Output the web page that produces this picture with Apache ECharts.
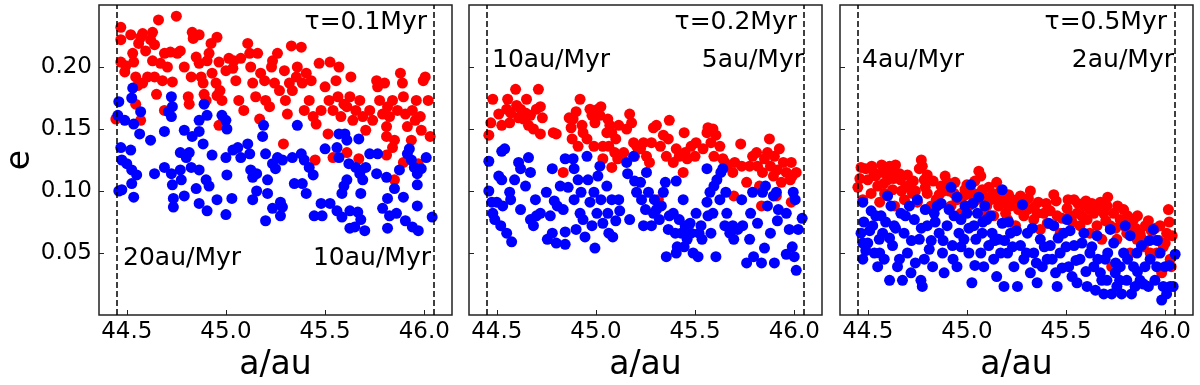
<!DOCTYPE html>
<html>
<head>
<meta charset="utf-8">
<script src="https://cdn.jsdelivr.net/npm/echarts@6/dist/echarts.min.js"></script>
<style>
  html, body { margin: 0; padding: 0; background: #fff; }
  #chart { width: 1200px; height: 385px; }
</style>
</head>
<body>
<div id="chart"></div>
<script>
// tick values shared by the three panels
const xTicks = [44.5, 45.0, 45.5, 46.0];
const yTicks = [0.05, 0.10, 0.15, 0.20];
// dashed boundaries of the region
const edges = [44.445, 46.045];

const tauLabels = ['τ=0.1Myr', 'τ=0.2Myr', 'τ=0.5Myr'];
const innerRates = ['20au/Myr', '10au/Myr', '4au/Myr'];
const outerRates = ['10au/Myr', '5au/Myr', '2au/Myr'];

// panel 1 (tau = 0.1 Myr)
const red1 = [
  [44.47,0.232],[44.47,0.222],[44.47,0.204],[44.495,0.201],[44.49,0.196],[44.52,0.226],[44.53,0.211],[44.535,0.204],
  [44.545,0.192],[44.56,0.219],[44.57,0.224],[44.58,0.227],[44.555,0.185],[44.58,0.187],[44.605,0.192],[44.595,0.213],
  [44.62,0.222],[44.63,0.228],[44.64,0.218],[44.63,0.205],[44.64,0.192],[44.65,0.178],[44.66,0.238],[44.67,0.203],
  [44.68,0.189],[44.69,0.211],[44.705,0.200],[44.72,0.212],[44.73,0.188],[44.75,0.241],[44.755,0.211],[44.77,0.213],
  [44.79,0.200],[44.81,0.176],[44.815,0.170],[44.825,0.192],[44.83,0.228],[44.835,0.223],[44.865,0.226],[44.85,0.208],
  [44.865,0.203],[44.875,0.192],[44.885,0.187],[44.89,0.178],[44.90,0.173],[44.905,0.205],[44.915,0.211],[44.925,0.219],
  [44.93,0.195],[44.95,0.187],[44.955,0.224],[44.965,0.204],[44.955,0.177],[44.97,0.181],[44.98,0.173],[45.0,0.197],
  [45.015,0.207],[45.035,0.199],[45.04,0.205],[45.05,0.189],[45.065,0.173],[45.075,0.207],[45.09,0.165],[45.11,0.219],
  [45.12,0.211],[45.125,0.200],[45.135,0.187],[45.15,0.176],[45.16,0.211],[45.17,0.158],[45.175,0.195],[45.195,0.189],
  [45.20,0.173],[45.22,0.168],[45.23,0.200],[45.235,0.205],[45.245,0.187],[45.26,0.211],[45.27,0.181],[45.295,0.197],
  [45.30,0.173],[45.31,0.162],[45.32,0.187],[45.33,0.217],[45.335,0.181],[45.355,0.192],[45.36,0.200],[45.38,0.216],
  [45.385,0.187],[45.395,0.165],[45.405,0.195],[45.42,0.173],[45.43,0.189],[45.44,0.160],[45.455,0.154],[45.47,0.203],
  [45.48,0.165],[45.50,0.184],[45.515,0.146],[45.52,0.173],[45.525,0.204],[45.54,0.165],[45.555,0.189],[45.565,0.176],
  [45.57,0.200],[45.58,0.160],[45.595,0.170],[45.61,0.168],[45.625,0.176],[45.63,0.192],[45.64,0.157],[45.655,0.165],
  [45.675,0.173],[45.69,0.160],[45.705,0.149],[45.725,0.165],[45.74,0.157],[45.76,0.189],[45.765,0.184],[45.775,0.173],
  [45.79,0.162],[45.80,0.187],[45.81,0.152],[45.815,0.168],[45.825,0.160],[45.84,0.173],[45.85,0.141],[45.865,0.165],
  [45.88,0.195],[45.89,0.187],[45.895,0.176],[45.905,0.162],[45.915,0.152],[45.935,0.141],[45.94,0.165],[45.955,0.157],
  [45.96,0.173],[45.98,0.160],[45.985,0.149],[45.995,0.189],[46.005,0.192],[46.02,0.173],[46.03,0.144],
  [44.445,0.158],[44.57,0.157],[44.545,0.170],[44.69,0.165],[44.965,0.153],[45.29,0.138],[45.45,0.125],[45.54,0.127],
  [45.61,0.131],[45.67,0.126],[45.81,0.129],[45.85,0.109],[45.895,0.123],[45.97,0.122],[45.84,0.135],[45.81,0.144]
];
const blue1 = [
  [44.455,0.161],[44.46,0.172],[44.53,0.183],[44.525,0.175],[44.49,0.157],[44.535,0.154],[44.57,0.164],[44.565,0.146],
  [44.62,0.141],[44.47,0.135],[44.52,0.133],[44.475,0.125],[44.50,0.122],[44.525,0.117],[44.55,0.113],[44.525,0.106],
  [44.46,0.100],[44.475,0.101],[44.535,0.095],[44.64,0.114],[44.69,0.148],[44.71,0.164],[44.725,0.176],[44.73,0.168],
  [44.725,0.160],[44.69,0.119],[44.725,0.114],[44.73,0.105],[44.735,0.094],[44.735,0.087],[44.77,0.117],[44.775,0.109],
  [44.79,0.149],[44.77,0.131],[44.80,0.127],[44.815,0.131],[44.79,0.096],[44.83,0.144],[44.825,0.119],[44.85,0.102],
  [44.865,0.090],[44.865,0.148],[44.865,0.157],[44.885,0.138],[44.89,0.170],[44.905,0.161],[44.865,0.117],[44.90,0.109],
  [44.915,0.104],[44.905,0.084],[44.93,0.129],[44.955,0.093],[44.98,0.161],[45.0,0.157],[45.005,0.150],[45.0,0.127],
  [45.005,0.113],[45.03,0.094],[45.0,0.081],[45.035,0.133],[45.06,0.135],[45.075,0.127],[45.11,0.138],[45.12,0.130],
  [45.125,0.117],[45.135,0.111],[45.155,0.114],[45.155,0.100],[45.135,0.093],[45.19,0.153],[45.185,0.144],[45.20,0.130],
  [45.21,0.109],[45.21,0.098],[45.20,0.076],[45.235,0.122],[45.25,0.118],[45.26,0.127],[45.285,0.125],[45.235,0.086],
  [45.275,0.091],[45.275,0.080],[45.285,0.087],[45.335,0.127],[45.36,0.153],[45.345,0.106],[45.385,0.106],[45.405,0.098],
  [45.38,0.130],[45.395,0.125],[45.42,0.119],[45.44,0.113],[45.445,0.080],[45.48,0.090],[45.485,0.080],[45.50,0.134],
  [45.525,0.090],[45.57,0.146],[45.56,0.135],[45.57,0.127],[45.56,0.084],[45.585,0.079],[45.60,0.146],[45.61,0.141],
  [45.62,0.122],[45.61,0.109],[45.595,0.104],[45.585,0.098],[45.625,0.084],[45.625,0.070],[45.65,0.071],[45.67,0.142],
  [45.655,0.119],[45.675,0.114],[45.69,0.109],[45.68,0.098],[45.665,0.083],[45.68,0.077],[45.70,0.068],[45.705,0.119],
  [45.725,0.130],[45.76,0.114],[45.765,0.130],[45.81,0.111],[45.79,0.086],[45.815,0.094],[45.825,0.080],[45.815,0.070],
  [45.85,0.102],[45.86,0.082],[45.875,0.117],[45.895,0.095],[45.905,0.076],[45.915,0.130],[45.925,0.134],[45.935,0.125],
  [45.95,0.119],[45.965,0.114],[45.965,0.105],[45.965,0.088],[45.94,0.071],[45.97,0.068],[45.985,0.118],[46.01,0.127],
  [46.04,0.079]
];

// panel 2 (tau = 0.2 Myr)
const red2 = [
  [44.46,0.145],[44.47,0.155],[44.48,0.174],[44.51,0.162],[44.525,0.153],[44.55,0.166],[44.555,0.174],[44.565,0.155],
  [44.57,0.163],[44.595,0.182],[44.60,0.169],[44.61,0.159],[44.62,0.166],[44.635,0.158],[44.645,0.163],[44.65,0.174],
  [44.66,0.153],[44.67,0.161],[44.685,0.150],[44.70,0.166],[44.71,0.182],[44.72,0.168],[44.72,0.146],[44.73,0.159],
  [44.785,0.147],[44.80,0.146],[44.835,0.115],[44.865,0.159],[44.875,0.151],[44.88,0.142],[44.885,0.158],[44.90,0.164],
  [44.91,0.136],[44.92,0.174],[44.93,0.153],[44.935,0.147],[44.955,0.142],[44.97,0.166],[44.98,0.161],[44.99,0.136],
  [44.995,0.155],[45.01,0.166],[45.02,0.161],[45.025,0.168],[45.035,0.136],[45.035,0.126],[45.055,0.147],[45.06,0.158],
  [45.065,0.136],[45.07,0.153],[45.08,0.147],[45.08,0.119],[45.095,0.131],[45.10,0.142],[45.11,0.126],[45.115,0.153],
  [45.14,0.131],[45.155,0.150],[45.17,0.162],[45.18,0.155],[45.19,0.139],[45.195,0.128],[45.205,0.136],[45.225,0.134],
  [45.24,0.139],[45.255,0.128],[45.27,0.123],[45.28,0.139],[45.29,0.151],[45.305,0.153],[45.315,0.093],[45.325,0.136],
  [45.34,0.145],[45.355,0.128],[45.365,0.142],[45.37,0.157],[45.39,0.123],[45.405,0.134],[45.42,0.128],[45.44,0.115],
  [45.445,0.147],[45.45,0.131],[45.46,0.126],[45.48,0.136],[45.50,0.128],[45.505,0.139],[45.54,0.134],[45.56,0.147],
  [45.565,0.151],[45.58,0.139],[45.59,0.150],[45.595,0.128],[45.605,0.145],[45.625,0.136],[45.64,0.126],[45.65,0.123],
  [45.66,0.120],[45.69,0.115],[45.695,0.096],[45.70,0.123],[45.73,0.138],[45.735,0.120],[45.76,0.107],[45.775,0.120],
  [45.79,0.128],[45.81,0.131],[45.815,0.120],[45.825,0.104],[45.835,0.088],[45.84,0.115],[45.85,0.126],[45.865,0.131],
  [45.875,0.142],[45.88,0.120],[45.895,0.112],[45.90,0.128],[45.915,0.117],[45.925,0.134],[45.935,0.107],[45.945,0.123],
  [45.96,0.115],[45.98,0.109],[45.985,0.123],[45.99,0.112],[46.01,0.115],[45.985,0.091],[45.91,0.096]
];
const blue2 = [
  [44.46,0.124],[44.46,0.100],[44.475,0.091],[44.48,0.082],[44.49,0.077],[44.50,0.091],[44.51,0.112],[44.525,0.109],
  [44.525,0.132],[44.54,0.134],[44.53,0.088],[44.52,0.072],[44.55,0.066],[44.575,0.059],[44.565,0.099],[44.57,0.093],
  [44.59,0.109],[44.61,0.123],[44.62,0.118],[44.62,0.085],[44.645,0.104],[44.66,0.127],[44.67,0.115],[44.67,0.077],
  [44.685,0.072],[44.695,0.093],[44.70,0.080],[44.72,0.082],[44.75,0.099],[44.755,0.061],[44.77,0.080],[44.78,0.066],
  [44.78,0.118],[44.79,0.092],[44.80,0.058],[44.805,0.088],[44.82,0.104],[44.835,0.085],[44.845,0.067],[44.845,0.057],
  [44.845,0.126],[44.86,0.103],[44.885,0.126],[44.89,0.118],[44.89,0.093],[44.90,0.069],[44.91,0.109],[44.92,0.082],
  [44.925,0.099],[44.935,0.077],[44.945,0.063],[44.955,0.128],[44.96,0.109],[44.97,0.091],[44.98,0.072],[44.99,0.099],
  [44.995,0.054],[45.005,0.082],[45.01,0.112],[45.02,0.120],[45.025,0.093],[45.035,0.074],[45.055,0.104],[45.06,0.082],
  [45.065,0.066],[45.08,0.093],[45.085,0.063],[45.10,0.076],[45.115,0.093],[45.12,0.084],[45.155,0.123],[45.16,0.114],
  [45.17,0.077],[45.19,0.128],[45.195,0.108],[45.205,0.099],[45.225,0.107],[45.23,0.093],[45.24,0.072],[45.25,0.085],
  [45.255,0.115],[45.265,0.099],[45.28,0.072],[45.29,0.082],[45.295,0.093],[45.305,0.085],[45.32,0.077],[45.33,0.088],
  [45.34,0.099],[45.35,0.107],[45.355,0.047],[45.365,0.069],[45.37,0.080],[45.39,0.082],[45.40,0.066],[45.405,0.108],
  [45.405,0.050],[45.41,0.055],[45.42,0.077],[45.43,0.066],[45.44,0.093],[45.445,0.055],[45.45,0.072],[45.46,0.061],
  [45.475,0.074],[45.48,0.066],[45.49,0.050],[45.505,0.082],[45.515,0.047],[45.52,0.066],[45.53,0.072],[45.535,0.061],
  [45.56,0.118],[45.56,0.091],[45.565,0.080],[45.575,0.099],[45.58,0.066],[45.59,0.082],[45.595,0.104],[45.605,0.047],
  [45.61,0.109],[45.625,0.093],[45.63,0.115],[45.64,0.118],[45.65,0.072],[45.655,0.099],[45.66,0.082],[45.675,0.066],
  [45.69,0.072],[45.695,0.061],[45.715,0.069],[45.735,0.093],[45.74,0.072],[45.76,0.042],[45.775,0.061],[45.78,0.082],
  [45.79,0.099],[45.795,0.047],[45.815,0.074],[45.835,0.042],[45.84,0.099],[45.85,0.054],[45.855,0.104],[45.865,0.088],
  [45.88,0.066],[45.895,0.096],[45.90,0.042],[45.91,0.099],[45.915,0.076],[45.92,0.085],[45.96,0.082],[45.96,0.049],
  [45.975,0.069],[45.99,0.055],[45.995,0.099],[46.0,0.047],[46.01,0.036],[46.02,0.069],[46.04,0.078],[46.005,0.093]
];

// panel 3 (tau = 0.5 Myr)
const red3 = [
  [44.466,0.119],[44.45,0.103],[44.475,0.093],[44.50,0.109],[44.517,0.098],[44.53,0.115],[44.55,0.104],[44.56,0.091],
  [44.575,0.115],[44.585,0.098],[44.60,0.109],[44.617,0.115],[44.625,0.101],[44.635,0.088],[44.66,0.114],[44.665,0.109],
  [44.685,0.093],[44.71,0.105],[44.725,0.098],[44.75,0.091],[44.76,0.118],[44.775,0.120],[44.785,0.109],[44.80,0.098],
  [44.82,0.088],[44.845,0.093],[44.87,0.104],[44.90,0.107],[44.92,0.088],[44.935,0.098],[44.95,0.093],[44.97,0.082],
  [44.985,0.096],[45.01,0.088],[45.035,0.098],[45.05,0.093],[45.07,0.112],[45.078,0.101],[45.085,0.082],[45.10,0.088],
  [45.12,0.093],[45.135,0.080],[45.15,0.107],[45.16,0.088],[45.178,0.093],[45.195,0.082],[45.205,0.077],[45.22,0.088],
  [45.245,0.072],[45.255,0.093],[45.27,0.096],[45.287,0.080],[45.305,0.085],[45.32,0.100],[45.337,0.077],[45.354,0.082],
  [45.37,0.069],[45.388,0.082],[45.405,0.074],[45.438,0.097],[45.455,0.080],[45.47,0.066],[45.505,0.086],[45.52,0.080],
  [45.54,0.093],[45.555,0.082],[45.57,0.072],[45.59,0.088],[45.606,0.077],[45.62,0.066],[45.64,0.082],[45.656,0.072],
  [45.673,0.091],[45.68,0.061],[45.69,0.082],[45.706,0.088],[45.723,0.072],[45.73,0.039],[45.74,0.082],[45.756,0.061],
  [45.773,0.077],[45.79,0.085],[45.806,0.066],[45.823,0.050],[45.84,0.077],[45.857,0.061],[45.873,0.066],[45.89,0.055],
  [45.915,0.076],[45.924,0.050],[45.94,0.061],[45.957,0.050],[45.974,0.072],[45.982,0.034],[45.99,0.055],[46.007,0.066],
  [46.016,0.085],[46.025,0.045],[46.03,0.039],[46.035,0.064],[45.95,0.070],[45.83,0.070],[45.63,0.090],[45.40,0.090],
  [45.21,0.097],[45.00,0.105],[44.80,0.113],[44.64,0.121],[44.57,0.121],[44.69,0.103],[44.88,0.100],[45.14,0.095],
  [44.46,0.110],[44.49,0.118],[44.52,0.120],[44.54,0.112],[44.58,0.106],[44.61,0.120],[44.63,0.110],[44.67,0.100],
  [44.70,0.113],[44.73,0.108],[44.74,0.100],[44.77,0.125],[44.79,0.103],[44.83,0.108],[44.86,0.097],[44.89,0.112],
  [44.91,0.100],[44.94,0.107],[44.96,0.095],[44.99,0.101],[45.02,0.097],[45.04,0.108],[45.06,0.116],[45.09,0.095],
  [45.11,0.103],[45.13,0.098],[45.17,0.100],[45.19,0.090],[45.23,0.093],[45.26,0.085],[45.29,0.090],[45.31,0.094],
  [45.34,0.087],[45.36,0.091],[45.42,0.084],[45.45,0.092],[45.48,0.078],[45.51,0.093],[45.53,0.075],[45.56,0.090],
  [45.58,0.080],[45.60,0.092],[45.62,0.085],[45.66,0.088],[45.70,0.076],[45.71,0.095],[45.75,0.070],[45.76,0.088],
  [45.79,0.072],[45.81,0.080],[45.85,0.070],[45.86,0.080],[45.88,0.062],[45.90,0.072],[45.93,0.068],[45.97,0.060],
  [46.00,0.058],[46.02,0.075]
];
const blue3 = [
  [44.475,0.091],[44.466,0.066],[44.475,0.058],[44.475,0.045],[44.50,0.058],[44.517,0.084],[44.525,0.072],[44.533,0.050],
  [44.55,0.039],[44.558,0.061],[44.567,0.080],[44.575,0.066],[44.583,0.045],[44.60,0.096],[44.61,0.028],[44.617,0.088],
  [44.625,0.056],[44.633,0.072],[44.65,0.039],[44.667,0.082],[44.675,0.028],[44.683,0.066],[44.70,0.050],[44.71,0.088],
  [44.718,0.034],[44.735,0.077],[44.75,0.093],[44.76,0.061],[44.768,0.028],[44.775,0.023],[44.785,0.045],[44.80,0.072],
  [44.81,0.053],[44.827,0.039],[44.835,0.082],[44.85,0.088],[44.86,0.066],[44.877,0.050],[44.885,0.034],[44.90,0.072],
  [44.92,0.103],[44.927,0.056],[44.935,0.080],[44.95,0.039],[44.96,0.066],[44.97,0.077],[44.985,0.061],[45.0,0.082],
  [45.01,0.050],[45.02,0.105],[45.025,0.026],[45.035,0.072],[45.045,0.061],[45.053,0.082],[45.07,0.050],[45.077,0.066],
  [45.085,0.039],[45.10,0.077],[45.11,0.056],[45.127,0.066],[45.135,0.045],[45.15,0.031],[45.16,0.061],[45.178,0.101],
  [45.178,0.074],[45.187,0.023],[45.205,0.050],[45.22,0.066],[45.237,0.039],[45.255,0.023],[45.27,0.056],[45.28,0.089],
  [45.287,0.045],[45.305,0.066],[45.32,0.034],[45.337,0.050],[45.354,0.026],[45.37,0.061],[45.38,0.039],[45.405,0.045],
  [45.413,0.074],[45.42,0.056],[45.438,0.072],[45.447,0.034],[45.455,0.023],[45.47,0.050],[45.488,0.066],[45.505,0.077],
  [45.513,0.039],[45.53,0.031],[45.54,0.056],[45.555,0.026],[45.57,0.045],[45.59,0.066],[45.606,0.023],[45.62,0.050],
  [45.64,0.039],[45.648,0.020],[45.656,0.064],[45.673,0.034],[45.69,0.017],[45.697,0.045],[45.706,0.028],[45.723,0.069],
  [45.73,0.017],[45.74,0.058],[45.748,0.034],[45.756,0.023],[45.773,0.039],[45.78,0.017],[45.79,0.050],[45.798,0.072],
  [45.806,0.028],[45.823,0.064],[45.83,0.017],[45.84,0.039],[45.848,0.023],[45.857,0.050],[45.873,0.028],[45.88,0.056],
  [45.898,0.039],[45.915,0.023],[45.924,0.045],[45.94,0.069],[45.948,0.028],[45.957,0.039],[45.974,0.050],[45.982,0.012],
  [45.99,0.023],[46.007,0.017],[46.025,0.023],[46.04,0.023],[46.05,0.049],[45.999,0.039],
  [44.48,0.075],[44.49,0.052],[44.51,0.068],[44.54,0.080],[44.56,0.050],[44.59,0.075],[44.61,0.062],[44.64,0.070],
  [44.66,0.045],[44.69,0.080],[44.72,0.060],[44.74,0.042],[44.77,0.070],[44.79,0.085],[44.82,0.060],[44.84,0.075],
  [44.87,0.090],[44.88,0.060],[44.91,0.085],[44.93,0.045],[44.95,0.095],[44.97,0.055],[44.99,0.088],[45.01,0.070],
  [45.03,0.090],[45.04,0.040],[45.06,0.095],[45.08,0.075],[45.09,0.088],[45.12,0.080],[45.14,0.060],[45.17,0.050],
  [45.19,0.060],[45.21,0.075],[45.23,0.055],[45.25,0.068],[45.30,0.050],[45.33,0.070],[45.35,0.042],[45.39,0.055],
  [45.43,0.045],[45.46,0.062],[45.48,0.038],[45.50,0.055],[45.52,0.068],[45.55,0.044],[45.58,0.058],[45.60,0.035],
  [45.63,0.055],[45.66,0.045],[45.68,0.028],[45.71,0.050],[45.75,0.042],[45.77,0.028],[45.81,0.045],[45.86,0.035],
  [45.89,0.025],[45.92,0.060],[45.96,0.060],[46.02,0.040]
];

const reds = [red1, red2, red3];
const blues = [blue1, blue2, blue3];

const gridLefts = [99, 469, 840];
const FONT = 'DejaVu Sans';

const grids = [], xAxes = [], yAxes = [], series = [], texts = [];

gridLefts.forEach((left, i) => {
  grids.push({
    left: left, top: 5, width: 353, height: 310,
    outerBoundsMode: 'none', containLabel: false,
    show: true, borderColor: '#222', borderWidth: 1.5, backgroundColor: '#fff'
  });
  xAxes.push({
    gridIndex: i, type: 'value', min: 44.36, max: 46.14,
    name: 'a/au', nameLocation: 'middle', nameGap: 32,
    nameTextStyle: { fontFamily: FONT, fontSize: 33, color: '#000' },
    axisLine: { show: false },
    splitLine: { show: false },
    axisTick: { inside: true, length: 5, customValues: xTicks, lineStyle: { color: '#222', width: 1 } },
    axisLabel: {
      customValues: xTicks, margin: 6, color: '#000', fontFamily: FONT, fontSize: 23,
      formatter: v => v.toFixed(1)
    }
  });
  yAxes.push({
    gridIndex: i, type: 'value', min: 0, max: 0.25,
    name: i === 0 ? 'e' : '', nameLocation: 'middle', nameGap: 62, nameRotate: 90,
    nameTextStyle: { fontFamily: FONT, fontSize: 33, color: '#000' },
    axisLine: { show: false },
    splitLine: { show: false },
    axisTick: { inside: true, length: 5, customValues: yTicks, lineStyle: { color: '#222', width: 1 } },
    axisLabel: {
      show: i === 0, customValues: yTicks, margin: 7, color: '#000', fontFamily: FONT, fontSize: 23,
      formatter: v => v.toFixed(2)
    }
  });
  series.push({
    type: 'scatter', xAxisIndex: i, yAxisIndex: i,
    data: reds[i], symbolSize: 11, itemStyle: { color: '#ff0000', opacity: 1 },
    silent: true, animation: false,
    markLine: {
      silent: true, symbol: 'none', animation: false,
      label: { show: false },
      lineStyle: { color: '#000', width: 1.5, type: [6, 3] },
      data: edges.map(v => ({ xAxis: v }))
    }
  });
  series.push({
    type: 'scatter', xAxisIndex: i, yAxisIndex: i,
    data: blues[i], symbolSize: 11, itemStyle: { color: '#0000ff', opacity: 1 },
    silent: true, animation: false
  });
});

const txt = (x, y, s, align) => ({
  type: 'text', x: x, y: y, z: 100,
  style: { text: s, fontFamily: FONT, fontSize: 25, fill: '#000', align: align, verticalAlign: 'middle' }
});

// tau labels, top right of each panel
texts.push(txt(427, 22, tauLabels[0], 'right'));
texts.push(txt(797, 22, tauLabels[1], 'right'));
texts.push(txt(1167, 22, tauLabels[2], 'right'));
// migration rates
texts.push(txt(123, 258, innerRates[0], 'left'));
texts.push(txt(431, 258, outerRates[0], 'right'));
texts.push(txt(492, 60, innerRates[1], 'left'));
texts.push(txt(804, 60, outerRates[1], 'right'));
texts.push(txt(862, 60, innerRates[2], 'left'));
texts.push(txt(1174, 60, outerRates[2], 'right'));

const chart = echarts.init(document.getElementById('chart'), null, { renderer: 'canvas' });
chart.setOption({
  backgroundColor: '#fff',
  animation: false,
  grid: grids,
  xAxis: xAxes,
  yAxis: yAxes,
  series: series,
  graphic: texts
});
</script>
</body>
</html>
